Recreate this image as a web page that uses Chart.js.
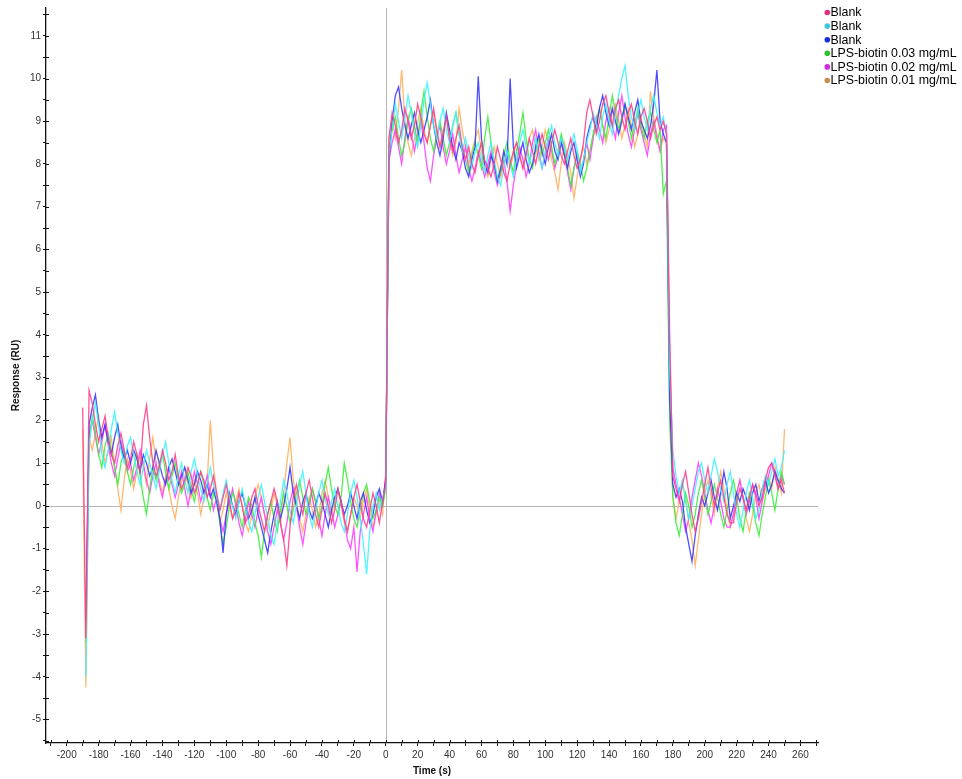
<!DOCTYPE html>
<html>
<head>
<meta charset="utf-8">
<script src="https://cdn.jsdelivr.net/npm/chart.js@4/dist/chart.umd.min.js"></script>
<style>
  html, body { margin: 0; padding: 0; background: #fff; }
  #wrap { width: 962px; height: 779px; position: relative; }
</style>
</head>
<body>
<div id="wrap"><canvas id="c"></canvas></div>
<script>
// Sampling times (s)
const times = [
  -190,-188,-186,-184,-182,-180,-178,-176,
  -174,-172,-170,-168,-166,-164,-162,-160,
  -158,-156,-154,-152,-150,-148,-146,-144,
  -142,-140,-138,-136,-134,-132,-130,-128,
  -126,-124,-122,-120,-118,-116,-114,-112,
  -110,-108,-106,-104,-102,-100,-98,-96,
  -94,-92,-90,-88,-86,-84,-82,-80,
  -78,-76,-74,-72,-70,-68,-66,-64,
  -62,-60,-58,-56,-54,-52,-50,-48,
  -46,-44,-42,-40,-38,-36,-34,-32,
  -30,-28,-26,-24,-22,-20,-18,-16,
  -14,-12,-10,-8,-6,-4,-2,0,
  2,4,6,8,10,12,14,16,
  18,20,22,24,26,28,30,32,
  34,36,38,40,42,44,46,48,
  50,52,54,56,58,60,62,64,
  66,68,70,72,74,76,78,80,
  82,84,86,88,90,92,94,96,
  98,100,102,104,106,108,110,112,
  114,116,118,120,122,124,126,128,
  130,132,134,136,138,140,142,144,
  146,148,150,152,154,156,158,160,
  162,164,166,168,170,172,174,176,
  178,180,182,184,186,188,190,192,
  194,196,198,200,202,204,206,208,
  210,212,214,216,218,220,222,224,
  226,228,230,232,234,236,238,240,
  242,244,246,248,250
];

// Response (RU) per sensorgram
const blank1 = [
  2.3,-3.1,2.7,2.4,1.9,1.5,1.8,2.1,
  1.6,1.2,1.0,1.4,1.7,1.3,0.9,1.1,
  1.5,1.2,0.8,1.9,2.35,1.6,1.0,0.7,
  0.9,1.3,1.0,0.6,0.8,1.2,0.7,0.4,
  0.6,0.9,0.7,0.3,0.5,0.8,0.6,0.2,
  0.4,0.7,0.3,-0.1,0.2,0.5,0.1,-0.3,
  -0.1,0.3,0.0,-0.4,-0.2,0.2,0.4,0.0,
  -0.3,-0.6,-0.2,0.1,0.4,0.1,-0.4,-0.8,
  -1.4,-0.5,0.2,0.5,0.1,-0.2,0.3,0.6,
  0.2,-0.2,-0.5,-0.1,0.3,0.0,-0.4,-0.1,
  0.4,0.1,-0.3,-0.6,-0.2,0.2,0.5,0.1,
  -0.3,-0.5,-0.1,0.3,0.0,-0.4,0.1,0.5,
  8.6,9.2,8.9,8.5,8.8,9.3,9.0,8.6,
  8.9,9.4,9.1,8.7,8.5,8.9,9.3,8.8,
  8.4,8.7,9.1,8.6,8.3,8.6,8.9,8.4,
  8.1,8.4,8.0,7.8,8.2,8.5,8.1,7.9,
  7.7,8.0,8.4,8.1,7.8,7.6,8.0,8.3,
  8.5,8.2,7.9,8.2,8.6,8.3,8.0,8.4,
  8.7,8.4,8.1,8.5,8.8,8.5,8.2,8.0,
  8.3,8.6,8.2,7.9,8.1,8.5,9.2,9.5,
  9.1,8.7,9.0,9.4,9.6,9.2,8.9,9.3,
  9.5,9.1,8.8,9.2,9.4,9.0,8.7,9.1,
  9.3,9.0,8.6,8.9,9.1,8.8,9.0,8.7,
  4.0,0.7,0.4,0.1,0.5,0.8,0.3,-0.2,
  -0.6,-0.3,0.1,0.5,0.9,0.4,0.0,0.3,
  0.6,0.2,-0.2,-0.4,-0.4,0.1,0.4,0.2,
  -0.1,0.2,0.5,0.3,0.0,0.2,0.6,0.9,
  1.0,0.7,0.4,0.6,0.3
];

const blank2 = [
  null,-4.0,1.4,2.0,2.4,1.9,1.2,0.9,
  1.3,1.8,2.2,1.7,1.3,1.0,1.4,1.6,
  1.2,0.8,0.5,0.9,1.3,1.0,0.7,0.4,
  0.8,1.2,1.5,1.0,0.6,0.3,0.7,1.0,
  0.6,0.3,0.8,1.1,0.7,0.4,0.1,0.5,
  0.9,0.5,0.2,-0.1,0.3,0.6,0.2,0.0,
  -0.3,0.1,0.4,0.0,-0.4,-0.6,-0.2,0.2,
  0.5,0.1,-0.3,-0.7,-0.9,-0.4,0.1,0.6,
  0.3,-0.1,-0.4,0.0,0.5,0.8,0.3,-0.2,
  -0.5,-0.1,0.3,0.6,0.2,-0.2,0.1,0.4,
  0.0,-0.4,-0.6,-0.2,0.3,0.6,0.2,-0.3,
  -0.9,-1.6,-0.6,0.0,0.3,-0.1,0.2,0.4,
  8.2,8.8,9.4,9.0,8.6,9.1,9.6,9.2,
  8.7,8.4,8.9,9.5,9.9,9.4,8.9,8.6,
  9.0,9.3,8.8,8.5,8.9,9.2,8.7,8.3,
  8.6,8.2,7.9,8.3,8.5,8.1,7.8,8.2,
  8.5,8.1,7.7,7.5,7.9,8.3,8.0,7.7,
  8.1,8.5,8.8,8.4,8.0,8.3,8.6,8.2,
  7.9,8.3,8.6,8.9,8.5,8.2,8.6,8.4,
  8.1,8.4,8.7,8.3,7.8,8.1,8.5,8.8,
  9.2,8.9,8.6,9.1,9.4,9.0,8.7,9.2,
  9.6,10.0,10.3,9.6,9.1,8.8,9.2,9.5,
  9.1,8.8,9.3,9.6,9.2,8.9,9.1,8.7,
  3.2,1.3,0.7,0.3,0.6,0.1,-0.3,0.0,
  0.4,0.8,1.0,0.6,0.3,0.7,1.1,0.8,
  0.4,0.1,0.5,0.8,0.3,-0.2,-0.5,-0.1,
  0.3,0.6,0.2,-0.3,-0.1,0.4,0.7,0.5,
  0.8,1.1,0.7,0.9,1.3
];

const blank3 = [
  null,-2.65,1.9,2.3,2.6,2.0,1.6,1.9,
  1.5,1.2,1.6,1.9,1.4,1.1,1.3,1.0,
  1.3,1.1,0.8,1.2,1.0,0.7,0.9,1.3,
  1.0,0.7,0.5,0.9,1.1,0.8,0.5,0.7,
  0.9,0.6,0.3,0.5,0.8,0.6,0.3,0.5,
  0.2,0.4,0.1,-0.3,-1.1,-0.2,0.3,0.0,
  -0.2,0.1,0.3,0.0,-0.3,-0.1,0.2,-0.2,
  -0.5,-0.8,-1.1,-0.6,-0.2,0.1,-0.3,0.0,
  0.4,0.9,0.3,0.0,-0.3,0.1,0.3,-0.1,
  -0.3,0.0,0.3,0.1,-0.2,-0.5,-0.1,0.2,
  0.4,0.1,-0.2,0.0,0.3,0.0,-0.3,0.1,
  0.3,-0.1,-0.4,-0.2,0.2,0.4,0.1,0.6,
  8.0,9.0,9.6,9.8,9.3,8.9,8.6,8.9,
  9.2,8.8,8.5,8.8,9.1,9.5,8.9,8.5,
  8.2,8.6,9.2,8.8,8.4,8.1,8.5,8.3,
  7.9,7.7,8.1,8.4,10.05,8.6,8.0,7.8,
  8.2,8.0,7.6,7.9,8.3,8.0,10.0,8.4,
  7.9,8.2,8.5,8.1,7.8,8.0,8.4,8.7,
  8.3,8.0,8.4,8.7,8.3,8.1,8.5,8.2,
  7.9,8.3,8.5,8.1,7.7,8.0,8.6,8.9,
  9.1,8.8,9.3,9.6,9.2,8.9,9.3,9.0,
  8.7,9.0,9.4,9.1,8.8,9.2,9.5,9.0,
  8.8,8.6,8.9,9.4,10.2,9.0,8.7,8.5,
  2.5,0.5,0.2,0.4,0.1,-0.5,-0.9,-1.3,
  -0.7,-0.2,0.2,0.0,0.3,0.6,0.2,-0.1,
  0.3,0.8,0.4,-0.3,0.0,0.3,0.1,0.4,
  0.2,-0.1,0.3,0.5,0.1,0.4,0.6,0.3,
  0.5,0.8,0.6,0.4,0.3
];

const lps003 = [
  null,-3.2,1.5,2.1,1.7,1.2,0.9,1.4,
  1.7,1.3,0.9,0.5,1.0,1.3,0.8,0.5,
  0.9,1.2,0.7,0.2,-0.2,0.4,0.9,0.6,
  1.0,1.2,0.8,0.4,0.7,1.0,0.6,0.3,
  0.5,0.8,0.4,0.1,0.5,0.8,0.5,0.2,
  -0.1,0.3,0.1,-0.4,-0.9,-0.5,0.0,0.3,
  0.1,-0.2,-0.5,-0.1,0.2,0.0,-0.4,-0.7,
  -1.2,-0.6,-0.2,0.1,-0.3,-0.6,-0.1,0.3,
  0.0,-0.4,-0.1,0.3,0.6,0.2,-0.2,0.1,
  0.4,0.1,-0.3,0.0,0.5,0.9,0.4,0.0,
  -0.2,0.2,1.0,0.6,0.1,-0.3,-0.5,-0.1,
  0.3,0.5,0.1,-0.3,-0.1,0.2,0.0,0.4,
  8.4,8.8,9.1,8.6,8.2,8.5,9.0,9.3,
  8.9,8.5,9.2,9.7,9.1,8.6,8.3,8.7,
  9.0,8.6,8.2,8.5,8.9,9.2,8.7,8.4,
  8.1,7.8,8.2,8.5,8.2,7.9,8.6,9.1,
  8.5,8.0,7.6,7.8,8.2,8.5,8.1,7.8,
  8.3,8.7,9.2,8.6,8.1,7.9,8.3,8.6,
  8.2,8.5,8.8,8.4,8.0,8.3,8.7,8.4,
  7.9,7.5,7.9,8.3,8.0,7.6,7.9,8.3,
  8.7,9.0,9.3,8.9,8.6,9.1,9.6,9.2,
  8.8,9.1,9.4,9.0,8.6,8.9,9.3,8.9,
  8.6,9.0,9.2,8.8,8.5,8.8,7.3,7.6,
  2.0,0.2,-0.4,-0.7,-0.2,0.3,0.0,-0.5,
  -0.2,0.3,0.6,0.2,-0.2,0.1,0.5,0.2,
  -0.2,-0.5,-0.1,0.3,0.6,0.2,-0.3,-0.6,
  -0.1,0.3,0.0,-0.4,-0.7,-0.2,0.2,0.6,
  0.3,-0.1,0.4,0.8,0.5
];

const lps002 = [
  null,-3.0,1.7,2.0,1.6,1.2,1.5,1.9,
  1.4,1.0,0.7,1.1,1.5,1.2,0.8,1.0,
  0.6,0.9,1.3,1.0,0.6,0.3,0.7,1.0,
  0.5,0.2,0.6,0.9,0.5,0.2,0.5,0.8,
  0.4,0.0,0.4,0.8,0.5,0.1,0.4,0.7,
  0.3,-0.1,0.2,-0.3,-0.6,-0.2,0.1,0.4,
  0.0,-0.4,-0.7,-0.3,0.1,-0.2,-0.5,-0.1,
  0.2,-0.2,-0.6,-0.9,-0.5,-0.1,-0.4,-0.8,
  -0.4,0.1,0.4,0.0,-0.5,-0.9,-0.4,0.0,
  0.4,0.1,-0.3,-0.7,-0.2,0.2,-0.1,-0.5,
  -0.2,0.1,-0.3,-0.8,-1.0,-0.5,-1.55,-0.6,
  -0.2,0.2,-0.3,-0.6,-0.1,0.3,0.0,0.7,
  8.1,8.5,8.8,8.4,8.0,8.6,9.1,8.7,
  8.3,8.7,9.0,8.5,7.9,7.6,8.2,8.6,
  8.9,8.4,8.0,8.3,8.7,8.2,7.8,8.1,
  8.4,7.9,7.6,7.9,8.3,8.0,7.7,8.0,
  8.3,7.8,7.5,7.8,8.1,7.6,6.9,7.5,
  8.0,8.4,8.1,7.7,8.0,8.5,8.8,8.3,
  7.9,8.2,8.6,8.3,7.9,8.2,8.6,8.2,
  7.8,7.4,7.9,8.2,7.8,8.1,8.5,8.1,
  8.6,9.1,8.8,8.5,9.0,9.3,8.9,8.6,
  9.2,9.6,9.1,8.7,8.4,8.8,9.2,8.8,
  8.5,8.2,8.7,9.0,8.6,8.3,8.8,8.9,
  3.6,0.9,0.5,0.2,-0.2,-0.6,-0.3,0.2,
  0.6,1.0,0.7,0.3,-0.1,-0.4,0.0,0.4,
  0.1,-0.3,-0.5,-0.5,-0.2,0.3,0.6,0.2,
  -0.2,0.1,0.5,0.2,-0.3,0.1,0.5,0.7,
  1.0,0.8,0.4,0.7,0.5
];

const lps001 = [
  1.8,-4.25,1.6,1.3,1.7,2.1,1.5,1.0,
  1.3,1.6,0.9,0.4,-0.1,0.6,1.1,0.8,
  0.4,0.8,1.2,0.9,0.5,1.1,1.6,1.0,
  0.6,0.3,0.7,0.4,0.0,-0.3,0.2,0.6,
  0.9,0.5,0.2,0.6,0.3,-0.2,0.2,0.5,
  2.0,0.9,0.3,-0.4,-0.1,0.3,0.0,-0.3,
  0.1,0.4,0.0,-0.4,-0.6,-0.2,0.2,0.5,
  0.2,-0.2,-0.5,-0.1,0.3,0.0,-0.4,0.3,
  1.0,1.6,0.6,0.1,-0.3,-0.6,-0.2,0.2,
  -0.1,-0.5,-0.2,0.3,0.6,0.2,-0.2,0.1,
  0.4,0.0,-0.4,-0.6,-0.2,0.2,0.0,-0.3,
  0.1,0.4,-0.1,-0.5,-0.2,0.1,-0.2,0.8,
  8.6,9.0,8.6,9.3,10.2,9.0,8.5,8.2,
  8.6,9.0,9.3,8.8,8.5,8.9,9.2,8.7,
  8.4,8.8,9.1,8.6,8.2,8.5,9.3,8.8,
  8.4,8.0,8.3,8.6,8.8,8.3,7.9,7.7,
  8.1,8.4,8.0,7.7,8.0,8.3,7.9,8.2,
  8.5,8.2,7.9,8.3,8.6,8.8,8.4,8.1,
  8.4,8.8,8.5,8.1,7.8,7.4,8.0,8.5,
  8.2,7.8,7.2,7.7,8.1,8.4,8.0,8.3,
  8.6,9.0,9.3,8.9,8.5,8.8,9.2,9.4,
  9.0,8.6,8.9,9.3,8.9,8.4,8.7,9.1,
  8.7,8.4,9.7,9.1,8.7,8.3,8.6,8.5,
  3.0,0.2,-0.3,0.1,0.5,0.2,-0.4,-0.8,
  -1.4,-0.8,-0.2,0.3,0.6,0.2,-0.2,0.4,
  0.8,0.4,-0.1,-0.5,-0.2,0.3,0.6,0.2,
  -0.3,-0.6,-0.2,0.3,0.5,0.1,0.4,0.7,
  0.4,0.9,0.6,0.3,1.8
];

const seriesNames = ['Blank', 'Blank', 'Blank',
  'LPS-biotin 0.03 mg/mL', 'LPS-biotin 0.02 mg/mL', 'LPS-biotin 0.01 mg/mL'];
const seriesValues = [blank1, blank2, blank3, lps003, lps002, lps001];
const lineColors = ['rgba(255,64,140,0.9)', 'rgba(60,244,255,0.9)', 'rgba(52,52,255,0.88)',
  'rgba(60,240,60,0.9)', 'rgba(255,64,255,0.9)', 'rgba(255,176,96,0.9)'];
const markerColors = ['#e2307e', '#3cc8dc', '#1e2edc', '#2cc02c', '#cc2cdc', '#c89048'];

const TICK_FONT = { family: '"Liberation Sans Narrow", "Liberation Sans", Arial, sans-serif', size: 10 };
const TITLE_FONT = { family: '"Liberation Sans", Arial, sans-serif', size: 10, weight: 'bold' };

const datasets = seriesValues.map((vals, i) => ({
  label: seriesNames[i],
  data: times.map((t, j) => ({ x: t, y: vals[j] === undefined ? null : vals[j] })),
  borderColor: lineColors[i],
  backgroundColor: lineColors[i],
  borderWidth: 1.3,
  pointRadius: 0,
  tension: 0,
  spanGaps: false
}));

// Zero reference lines, inward tick marks and the series key
const decorations = {
  id: 'decorations',
  beforeDatasetsDraw(chart) {
    const { ctx, chartArea: a, scales: { x, y } } = chart;
    ctx.save();
    ctx.strokeStyle = '#b4b4b4';
    ctx.lineWidth = 1;
    ctx.beginPath();
    const y0 = Math.round(y.getPixelForValue(0)) + 0.5;
    ctx.moveTo(a.left, y0); ctx.lineTo(a.right, y0);
    const x0 = Math.round(x.getPixelForValue(0)) + 0.5;
    ctx.moveTo(x0, a.top); ctx.lineTo(x0, a.bottom);
    ctx.stroke();
    ctx.restore();
  },
  afterDraw(chart) {
    const { ctx, chartArea: a, scales: { x, y } } = chart;
    ctx.save();
    ctx.strokeStyle = '#111';
    ctx.lineWidth = 1;
    ctx.beginPath();
    x.ticks.forEach(t => {
      const px = Math.round(x.getPixelForValue(t.value)) + 0.5;
      ctx.moveTo(px, a.bottom); ctx.lineTo(px, a.bottom - 3);
    });
    y.ticks.forEach(t => {
      const py = Math.round(y.getPixelForValue(t.value)) + 0.5;
      ctx.moveTo(a.left, py); ctx.lineTo(a.left + 3, py);
    });
    ctx.stroke();

    // key, top right
    ctx.font = '12.4px "Liberation Sans", Arial, sans-serif';
    ctx.textBaseline = 'middle';
    ctx.textAlign = 'left';
    chart.data.datasets.forEach((ds, i) => {
      const cy = 12.5 + i * 13.6;
      ctx.beginPath();
      ctx.arc(827.3, cy, 2.8, 0, Math.PI * 2);
      ctx.fillStyle = markerColors[i];
      ctx.fill();
      ctx.fillStyle = '#000';
      ctx.fillText(ds.label, 830.5, cy + 0.5);
    });
    ctx.restore();
  }
};

new Chart(document.getElementById('c'), {
  type: 'line',
  data: { datasets },
  options: {
    responsive: true,
    maintainAspectRatio: false,
    animation: false,
    layout: { padding: { top: 7, right: 144, left: 0, bottom: 0 } },
    plugins: { legend: { display: false }, tooltip: { enabled: false } },
    scales: {
      x: {
        type: 'linear',
        min: -213,
        max: 271,
        afterFit(scale) { scale.height = 36; },
        border: { display: true, color: '#111', width: 1.3 },
        grid: { display: true, drawOnChartArea: false, drawTicks: true, tickLength: 3, tickColor: '#111' },
        ticks: {
          stepSize: 10,
          includeBounds: false,
          autoSkip: false,
          maxRotation: 0,
          padding: 3,
          color: '#333',
          font: TICK_FONT,
          callback: v => (Math.round(v) % 20 === 0 ? String(Math.round(v)) : '')
        },
        title: { display: true, text: 'Time (s)', color: '#111', font: TITLE_FONT, padding: { top: 0, bottom: 2 } }
      },
      y: {
        type: 'linear',
        min: -5.55,
        max: 11.65,
        afterFit(scale) { scale.width = 46; },
        border: { display: true, color: '#111', width: 1.3 },
        grid: { display: true, drawOnChartArea: false, drawTicks: true, tickLength: 3, tickColor: '#111' },
        ticks: {
          stepSize: 0.5,
          includeBounds: false,
          autoSkip: false,
          padding: 2,
          color: '#333',
          font: TICK_FONT,
          callback: v => (Math.abs(v - Math.round(v)) < 1e-6 ? String(Math.round(v)) : '')
        },
        title: { display: true, text: 'Response (RU)', color: '#111', font: TITLE_FONT, padding: { top: 10, bottom: 0 } }
      }
    }
  },
  plugins: [decorations]
});
</script>
</body>
</html>
